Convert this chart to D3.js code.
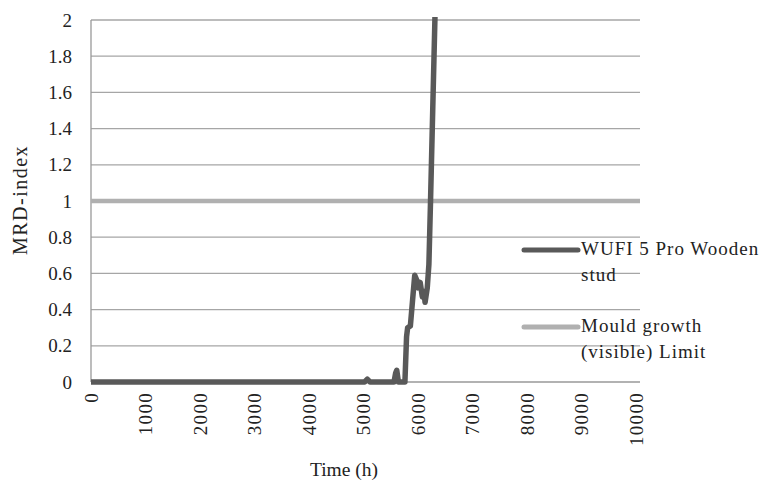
<!DOCTYPE html>
<html><head><meta charset="utf-8">
<script src="https://cdn.jsdelivr.net/npm/d3@7"></script>
<style>body{margin:0;background:#fff}svg{display:block}text{font-family:"Liberation Serif","DejaVu Serif",serif;fill:#222}</style>
</head><body><svg id="c" width="770" height="490"></svg>
<script>
const hours = [0,5020,5070,5120,5560,5590,5610,5640,5760,5790,5810,5860,5900,5940,5980,6000,6040,6080,6110,6130,6170,6200,6230,6270,6310,6330];
const mrd   = [0,0,0.015,0,0,0.05,0.065,0,0,0.25,0.3,0.31,0.45,0.59,0.56,0.52,0.55,0.47,0.5,0.44,0.52,0.65,1.0,1.5,2.0,2.3];
const limitValue = 1;
const xTicks = [0,1000,2000,3000,4000,5000,6000,7000,8000,9000,10000];
const yTicks = [0,0.2,0.4,0.6,0.8,1,1.2,1.4,1.6,1.8,2];
const legendLabels = [["WUFI 5 Pro Wooden","stud"],["Mould growth","(visible) Limit"]];
const seriesColors = ["#595959","#b0b0b0"];

const svg = d3.select("#c");
const pL = 91, pR = 640, pT = 20, pB = 382;
const x = d3.scaleLinear().domain([0,10000]).range([pL, pL+545]);
const y = d3.scaleLinear().domain([0,2]).range([pB, pT]);

// gridlines
svg.append("g").selectAll("line").data(yTicks.slice(1)).join("line")
  .attr("x1", pL).attr("x2", pR).attr("y1", d=>y(d)).attr("y2", d=>y(d))
  .attr("stroke", "#a6a6a6").attr("stroke-width", 1.3);
// axes lines
svg.append("line").attr("x1",pL).attr("x2",pL).attr("y1",pT).attr("y2",pB).attr("stroke","#999").attr("stroke-width",1.3);
svg.append("line").attr("x1",pL).attr("x2",pR).attr("y1",pB).attr("y2",pB).attr("stroke","#999").attr("stroke-width",1.3);

// y tick labels
const fmt = d => (d===0||d===1||d===2) ? String(d) : d.toFixed(1);
svg.append("g").selectAll("text").data(yTicks).join("text")
  .attr("x", 72).attr("y", d=>y(d)).attr("dy","0.35em").attr("text-anchor","end")
  .attr("font-size", 19).text(fmt);
// x tick labels rotated
svg.append("g").selectAll("text").data(xTicks).join("text")
  .attr("transform", d=>`translate(${x(d)},392) rotate(-90)`)
  .attr("dy","0.35em").attr("text-anchor","end").attr("font-size",19).attr("letter-spacing",1.3).text(d=>d);

// titles
svg.append("text").attr("transform","translate(20,200) rotate(-90)").attr("dy","0.35em")
  .attr("text-anchor","middle").attr("font-size",20).attr("letter-spacing",1.5).text("MRD-index");
svg.append("text").attr("x",344).attr("y",476).attr("text-anchor","middle").attr("font-size",19.5).text("Time (h)");

// clip
svg.append("clipPath").attr("id","clip").append("rect").attr("x",pL).attr("y",pT-3).attr("width",pR-pL).attr("height",pB-pT+6);

// limit line
svg.append("line").attr("x1",pL).attr("x2",pR).attr("y1",y(limitValue)).attr("y2",y(limitValue))
  .attr("stroke",seriesColors[1]).attr("stroke-width",4.5);

// data line
const data = hours.map((h,i)=>[h,mrd[i]]);
svg.append("path").datum(data).attr("clip-path","url(#clip)")
  .attr("d", d3.line().x(d=>x(d[0])).y(d=>y(d[1])))
  .attr("fill","none").attr("stroke",seriesColors[0]).attr("stroke-width",5.5).attr("stroke-linejoin","round");

// legend
const legY = [250, 327];
legendLabels.forEach((lines,i)=>{
  svg.append("line").attr("x1",524).attr("x2",578).attr("y1",legY[i]).attr("y2",legY[i])
    .attr("stroke",seriesColors[i]).attr("stroke-width",5).attr("stroke-linecap","round");
  lines.forEach((t,j)=>{
    svg.append("text").attr("x",581).attr("y",legY[i]+5+j*26).attr("font-size",19).attr("letter-spacing",1).text(t);
  });
});
</script></body></html>
